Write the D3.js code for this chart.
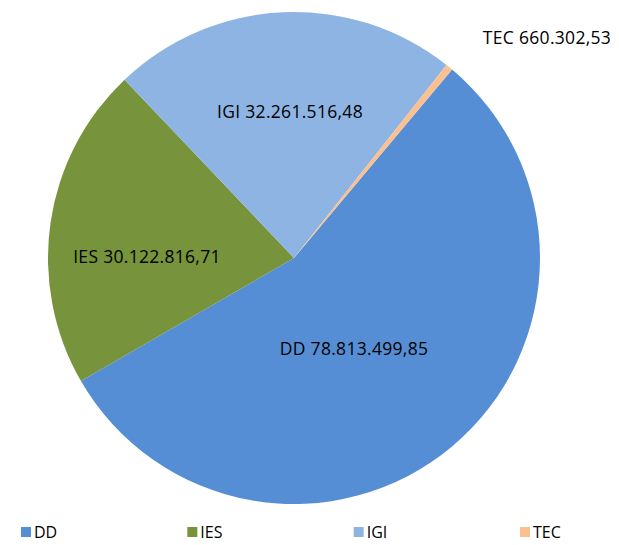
<!DOCTYPE html>
<html>
<head>
<meta charset="utf-8">
<script src="https://cdn.jsdelivr.net/npm/d3@7"></script>
<style>
  body { margin: 0; background: #fff; }
  text { font-family: "Open Sans", "Noto Sans", sans-serif; fill: #000; }
</style>
</head>
<body>
<svg id="chart" width="619" height="545"></svg>
<script>
const categories = ['DD', 'IES', 'IGI', 'TEC'];
const values = [78813499.85, 30122816.71, 32261516.48, 660302.53];
const valueLabels = ['78.813.499,85', '30.122.816,71', '32.261.516,48', '660.302,53'];

const COLORS = ['#558ed5', '#77933c', '#8eb4e3', '#fac090'];

const CENTER = { x: 294, y: 258 };
const RADIUS = 246;
const FIRST_ANGLE = 40; // degrees, like excel "angle of first slice"

const svg = d3.select('#chart');

const data = categories.map((c, i) => ({ name: c, value: values[i], label: valueLabels[i] }));

const pie = d3.pie()
  .sort(null)
  .value(d => d.value)
  .startAngle(FIRST_ANGLE * Math.PI / 180)
  .endAngle((FIRST_ANGLE + 360) * Math.PI / 180);

const arcs = pie(data);

const arc = d3.arc()
  .innerRadius(0)
  .outerRadius(RADIUS);

const color = d3.scaleOrdinal()
  .domain(categories)
  .range(COLORS);

const g = svg.append('g')
  .attr('transform', 'translate(' + CENTER.x + ',' + CENTER.y + ')');

g.selectAll('path')
  .data(arcs)
  .enter()
  .append('path')
  .attr('d', arc)
  .attr('fill', d => color(d.data.name));

// labels placed where excel put them
const labelAt = [
  [354, 355],
  [147, 263],
  [290, 118],
  [547, 44]
];

svg.append('g')
  .selectAll('text')
  .data(arcs)
  .enter()
  .append('text')
  .attr('x', (d, i) => labelAt[i][0])
  .attr('y', (d, i) => labelAt[i][1])
  .attr('text-anchor', 'middle')
  .attr('font-size', 17.5)
  .attr('letter-spacing', 0.3)
  .text(d => d.data.name + ' ' + d.data.label);

// legend
const legendX = d3.scalePoint()
  .domain(categories)
  .range([21, 520]);

const legend = svg.append('g')
  .attr('class', 'legend')
  .selectAll('g')
  .data(categories)
  .enter()
  .append('g')
  .attr('transform', d => 'translate(' + legendX(d) + ',527)');

legend.append('rect')
  .attr('width', 10)
  .attr('height', 10)
  .attr('fill', d => color(d));

legend.append('text')
  .attr('x', 13)
  .attr('y', 11)
  .attr('font-size', 16)
  .text(d => d);
</script>
</body>
</html>
